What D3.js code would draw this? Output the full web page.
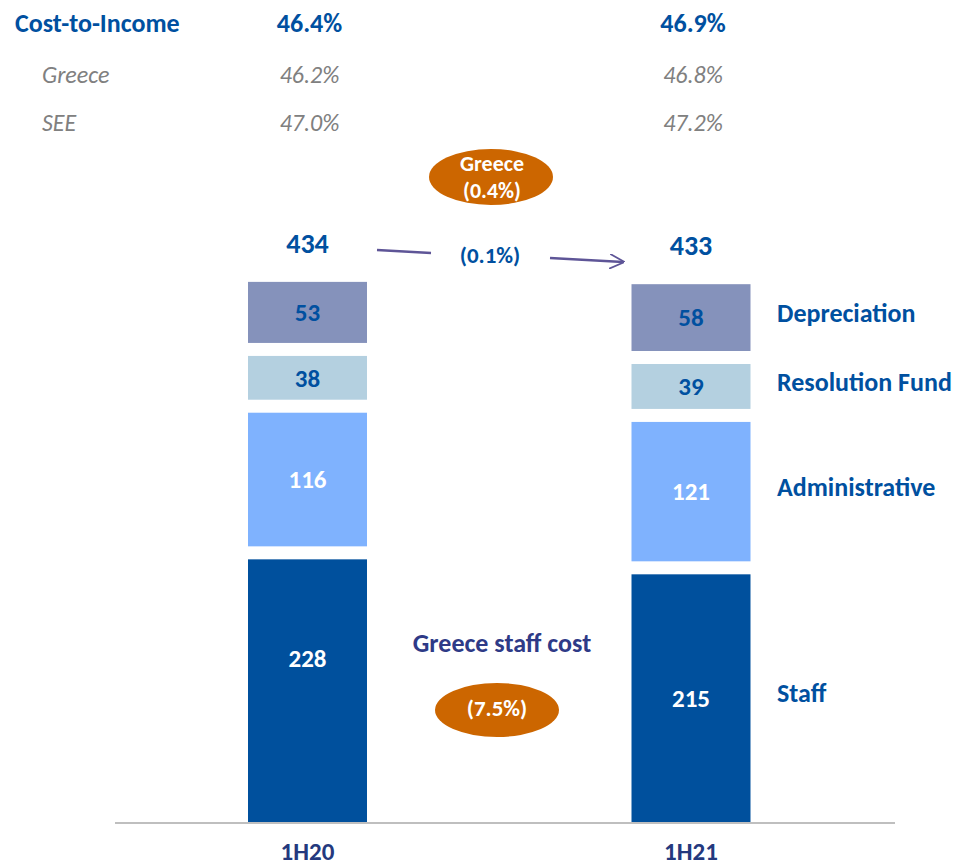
<!DOCTYPE html>
<html>
<head>
<meta charset="utf-8">
<script src="https://cdn.jsdelivr.net/npm/d3@7"></script>
<style>
body{margin:0;background:#fff}
svg{display:block;font-family:Carlito,Calibri,Lato,"Open Sans",sans-serif}
</style>
</head>
<body>
<svg></svg>
<script>
var periods = ["1H20", "1H21"]
var categories = ["Staff", "Administrative", "Resolution Fund", "Depreciation"]
var staff = [228, 215]
var administrative = [116, 121]
var resolution = [38, 39]
var depreciation = [53, 58]
var totals = [434, 433]
var ctiGroup = ["46.4%", "46.9%"]
var ctiGreece = ["46.2%", "46.8%"]
var ctiSEE = ["47.0%", "47.2%"]
var yoyChange = "(0.1%)"
var greeceChange = "(0.4%)"
var greeceStaffChange = "(7.5%)"

var screen = {width: 958, height: 867}
var blue = "#0050a0"
var colors = ["#00509d", "#7fb2fe", "#b4d0e0", "#8592bb"]
var labelColors = ["#fff", "#fff", blue, blue]
var orange = "#cc6600"
var gap = 13
var barWidth = 119
// the 1H20 staff label sits higher in the bar
var staffLabelShift = [-32, 0]

var svg = d3.select("svg")
    .attr("width", screen.width)
    .attr("height", screen.height)

var xScale = d3.scalePoint().domain(periods).range([307.5, 691])
var yScale = d3.scaleLinear().domain([0, 500]).range([822, 822 - 576])

var series = [staff, administrative, resolution, depreciation]

// build stacked segments with gaps
var segments = []
periods.forEach(function(p, j) {
    var cum = 0
    series.forEach(function(s, i) {
        segments.push({period: p, idx: j, cat: i, value: s[j],
            y0: yScale(cum) - gap * i, y1: yScale(cum + s[j]) - gap * i})
        cum += s[j]
    })
})

svg.selectAll("rect.seg")
    .data(segments)
    .enter()
    .append("rect")
    .attr("class", "seg")
    .attr("x", function(d) {return xScale(d.period) - barWidth / 2})
    .attr("y", function(d) {return d.y1})
    .attr("width", barWidth)
    .attr("height", function(d) {return d.y0 - d.y1})
    .attr("fill", function(d) {return colors[d.cat]})

svg.selectAll("text.seg")
    .data(segments)
    .enter()
    .append("text")
    .attr("class", "seg")
    .attr("x", function(d) {return xScale(d.period)})
    .attr("y", function(d) {
        var mid = (d.y0 + d.y1) / 2
        return d.cat == 0 ? mid + staffLabelShift[d.idx] : mid
    })
    .attr("dy", "0.35em")
    .attr("text-anchor", "middle")
    .attr("font-weight", "bold")
    .attr("font-size", 25)
    .attr("fill", function(d) {return labelColors[d.cat]})
    .text(function(d) {return d.value})

// axis baseline
svg.append("line")
    .attr("x1", 115).attr("x2", 895)
    .attr("y1", 823).attr("y2", 823)
    .attr("stroke", "#bfbfbf").attr("stroke-width", 2)

svg.selectAll("text.period")
    .data(periods)
    .enter()
    .append("text")
    .attr("class", "period")
    .attr("x", function(d) {return xScale(d)})
    .attr("y", 860)
    .attr("text-anchor", "middle")
    .attr("font-weight", "bold")
    .attr("font-size", 25)
    .attr("fill", "#24397e")
    .text(function(d) {return d})

// totals
var tops = segments.filter(function(d) {return d.cat == 3})
svg.selectAll("text.total")
    .data(tops)
    .enter()
    .append("text")
    .attr("class", "total")
    .attr("x", function(d) {return xScale(d.period)})
    .attr("y", function(d, i) {return d.y1 - 39})
    .attr("dy", "0.35em")
    .attr("text-anchor", "middle")
    .attr("font-weight", "bold")
    .attr("font-size", 28)
    .attr("fill", blue)
    .text(function(d, i) {return totals[i]})

// right side category labels at 1H21 segments
var last = segments.filter(function(d) {return d.period == periods[1]})
svg.selectAll("text.cat")
    .data(last)
    .enter()
    .append("text")
    .attr("class", "cat")
    .attr("x", function(d) {return xScale(periods[1]) + 86})
    .attr("y", function(d) {return (d.y0 + d.y1) / 2 - 5})
    .attr("dy", "0.35em")
    .attr("font-weight", "bold")
    .attr("font-size", 26)
    .attr("fill", blue)
    .text(function(d) {return categories[d.cat]})

// cost-to-income table
var rows = [
    {name: "Cost-to-Income", vals: ctiGroup, y: 23, x: 15, bold: true},
    {name: "Greece", vals: ctiGreece, y: 75, x: 42, bold: false},
    {name: "SEE", vals: ctiSEE, y: 123, x: 42, bold: false}
]
rows.forEach(function(r) {
    svg.append("text")
        .attr("x", r.x).attr("y", r.y).attr("dy", "0.35em")
        .attr("font-weight", r.bold ? "bold" : "normal")
        .attr("font-style", r.bold ? "normal" : "italic")
        .attr("font-size", r.bold ? 26 : 24)
        .attr("fill", r.bold ? blue : "#808080")
        .text(r.name)
    svg.selectAll(null)
        .data(r.vals)
        .enter()
        .append("text")
        .attr("x", function(d, i) {return xScale(periods[i]) + 2})
        .attr("y", r.y).attr("dy", "0.35em")
        .attr("text-anchor", "middle")
        .attr("font-weight", r.bold ? "bold" : "normal")
        .attr("font-style", r.bold ? "normal" : "italic")
        .attr("font-size", r.bold ? 26 : 24)
        .attr("fill", r.bold ? blue : "#808080")
        .text(function(d) {return d})
})

// change arrow
svg.append("defs").append("marker")
    .attr("id", "arrow")
    .attr("viewBox", "0 0 10 10")
    .attr("refX", 9).attr("refY", 5)
    .attr("markerWidth", 15).attr("markerHeight", 15)
    .attr("markerUnits", "userSpaceOnUse")
    .attr("orient", "auto")
    .append("path")
    .attr("d", "M0,0 L10,5 L0,10")
    .attr("fill", "none")
    .attr("stroke", "#5e5597")
    .attr("stroke-width", 1.2)

svg.append("line")
    .attr("x1", 377).attr("y1", 250).attr("x2", 431).attr("y2", 253)
    .attr("stroke", "#5e5597").attr("stroke-width", 2.5)
svg.append("line")
    .attr("x1", 550).attr("y1", 258).attr("x2", 623).attr("y2", 262)
    .attr("stroke", "#5e5597").attr("stroke-width", 2.5)
    .attr("marker-end", "url(#arrow)")
svg.append("text")
    .attr("x", 490).attr("y", 255).attr("dy", "0.35em")
    .attr("text-anchor", "middle")
    .attr("font-weight", "bold").attr("font-size", 23)
    .attr("fill", blue)
    .text(yoyChange)

// Greece bubble
svg.append("ellipse")
    .attr("cx", 491).attr("cy", 177).attr("rx", 62).attr("ry", 28)
    .attr("fill", orange)
var gt = svg.append("text")
    .attr("text-anchor", "middle")
    .attr("font-weight", "bold").attr("font-size", 22)
    .attr("fill", "#fff")
gt.append("tspan").attr("x", 492).attr("y", 171).text("Greece")
gt.append("tspan").attr("x", 492).attr("y", 198).text(greeceChange)

// Greece staff cost
svg.append("text")
    .attr("x", 502).attr("y", 643).attr("dy", "0.35em")
    .attr("text-anchor", "middle")
    .attr("font-weight", "bold").attr("font-size", 26)
    .attr("fill", "#2e3a87")
    .text("Greece staff cost")
svg.append("ellipse")
    .attr("cx", 497).attr("cy", 710).attr("rx", 62).attr("ry", 27)
    .attr("fill", orange)
svg.append("text")
    .attr("x", 497).attr("y", 708).attr("dy", "0.35em")
    .attr("text-anchor", "middle")
    .attr("font-weight", "bold").attr("font-size", 23)
    .attr("fill", "#fff")
    .text(greeceStaffChange)
</script>
</body>
</html>
